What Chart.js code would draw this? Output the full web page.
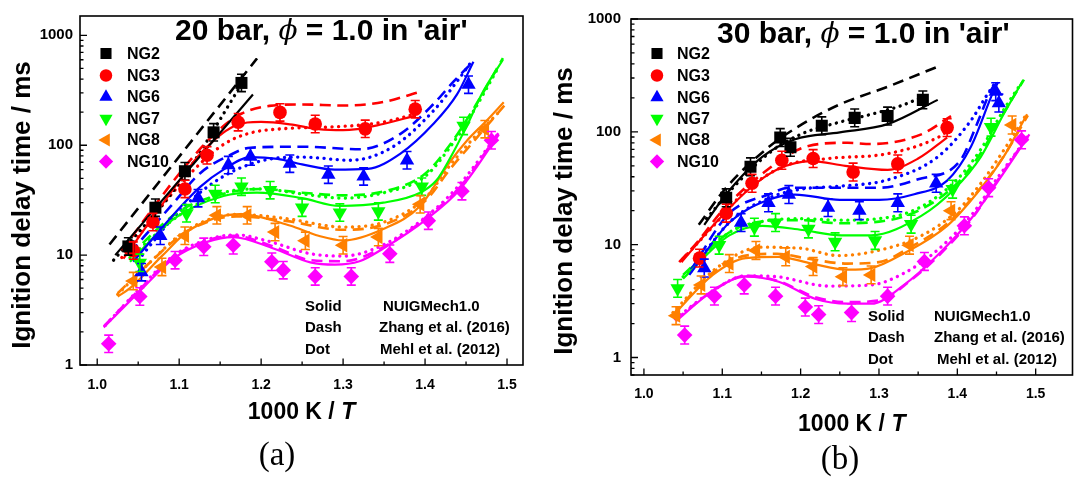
<!DOCTYPE html>
<html><head><meta charset="utf-8">
<script src="https://cdn.jsdelivr.net/npm/chart.js@4.4.1/dist/chart.umd.min.js"></script>
<style>
html,body{margin:0;padding:0;background:#fff;}
body{width:1081px;height:477px;overflow:hidden;position:relative;}
#ca{position:absolute;left:0;top:0;}
#cb{position:absolute;left:540px;top:0;}
</style></head><body>
<canvas id="ca" width="540" height="477"></canvas>
<canvas id="cb" width="541" height="477"></canvas>
<script>
// ---------- shared categories / styles ----------
const SERIES_NAMES = ['NG2','NG3','NG6','NG7','NG8','NG10'];
const SERIES_COLORS = ['#000000','#ff0000','#0000ff','#00ff00','#ff8000','#ff00ff'];
const SERIES_MARKERS = ['rect','circle','triangle','triangle','triangle','rectRot'];
const SERIES_MARKER_ROT = [0,0,0,180,270,0];
const STYLE_LABELS = ['Solid','Dash','Dot'];
const MODEL_LABELS = ['NUIGMech1.0','Zhang et al. (2016)','Mehl et al. (2012)'];
const X_TICKS = [1.0,1.05,1.1,1.15,1.2,1.25,1.3,1.35,1.4,1.45,1.5];
const Y_TICKS_A = [1,2,3,4,5,6,7,8,9,10,20,30,40,50,60,70,80,90,100,200,300,400,500,600,700,800,900,1000];
const Y_TICKS_B = [0.7,0.8,0.9,1,2,3,4,5,6,7,8,9,10,20,30,40,50,60,70,80,90,100,200,300,400,500,600,700,800,900,1000];
const ERR_FRAC = 0.2;
const X_TITLE = ['1000 K / ','T'];
const Y_TITLE = 'Ignition delay time / ms';
const TITLE_A = ['20 bar, ','ϕ',' = 1.0 in \'air\''];
const TITLE_B = ['30 bar, ','ϕ',' = 1.0 in \'air\''];

// ---------- panel (a): 20 bar ----------
const A_NG2_EXP = [[1.038,12],[1.071,27],[1.107,58],[1.142,131],[1.176,369]];
const A_NG2_SOLID = [[1.022,10],[1.19,290]];
const A_NG2_DASH = [[1.015,12.5],[1.195,617]];
const A_NG2_DOT = [[1.02,9],[1.10,45],[1.18,400]];

const A_NG3_EXP = [[1.044,11],[1.068,20],[1.107,40],[1.134,81],[1.172,162],[1.223,199],[1.266,156],[1.327,141],[1.388,213]];
const A_NG3_SOLID = [[1.032,9.3],[1.098,45],[1.126,84],[1.166,148],[1.2,163],[1.235,155],[1.27,140],[1.3,137],[1.349,156],[1.388,186]];
const A_NG3_DASH = [[1.03,11],[1.10,55],[1.14,120],[1.174,190],[1.21,228],[1.25,235],[1.30,230],[1.35,248],[1.39,300]];
const A_NG3_DOT = [[1.03,9.5],[1.10,43],[1.15,97],[1.183,127],[1.23,142],[1.28,146],[1.33,155],[1.357,167],[1.39,195]];

const A_NG6_EXP = [[1.054,7],[1.077,15],[1.123,33],[1.16,66],[1.187,79],[1.235,68],[1.282,54],[1.325,52],[1.378,73],[1.453,356]];
const A_NG6_SOLID = [[1.044,8.7],[1.09,22],[1.126,42],[1.154,60],[1.187,78],[1.22,75],[1.25,67],[1.29,60],[1.33,61],[1.37,84],[1.41,156],[1.439,290],[1.459,575]];
const A_NG6_DASH = [[1.04,10.5],[1.09,28],[1.126,56],[1.16,80],[1.187,95],[1.25,97],[1.321,92],[1.37,127],[1.41,236],[1.435,381],[1.459,580]];
const A_NG6_DOT = [[1.05,9],[1.10,25],[1.15,50],[1.2,72],[1.25,78],[1.309,73],[1.361,97],[1.41,205],[1.439,380],[1.455,555]];

const A_NG7_EXP = [[1.052,8.5],[1.109,24],[1.144,36],[1.176,42],[1.211,39],[1.25,27],[1.296,24.4],[1.343,25],[1.396,42],[1.447,150]];
const A_NG7_SOLID = [[1.04,8.7],[1.093,21.3],[1.154,34.5],[1.195,37],[1.25,33],[1.296,28],[1.349,30],[1.394,37],[1.414,48],[1.43,75],[1.451,150],[1.47,300],[1.495,600]];
const A_NG7_DASH = [[1.04,10],[1.1,25],[1.16,37],[1.2,40],[1.25,37],[1.3,35],[1.35,38],[1.4,55],[1.43,100],[1.46,220],[1.495,620]];
const A_NG7_DOT = [[1.04,9.5],[1.1,23],[1.16,38],[1.2,40],[1.25,36],[1.3,33],[1.35,37],[1.4,52],[1.43,95],[1.46,210],[1.49,520]];

const A_NG8_EXP = [[1.044,5.8],[1.079,7.8],[1.107,15],[1.146,23],[1.183,23],[1.217,16.2],[1.254,13.5],[1.30,12.3],[1.343,14.6],[1.394,29],[1.473,140]];
const A_NG8_SOLID = [[1.025,4.2],[1.04,5],[1.08,10],[1.113,17],[1.174,23.6],[1.235,18.6],[1.27,15],[1.30,13.6],[1.349,17.3],[1.394,28],[1.43,70],[1.451,110],[1.475,167],[1.496,246]];
const A_NG8_DASH = [[1.025,4.5],[1.06,8],[1.11,16.5],[1.17,22.5],[1.23,20.5],[1.3,17],[1.35,19],[1.4,31],[1.43,60],[1.46,110],[1.50,245]];
const A_NG8_DOT = [[1.025,4.4],[1.06,8],[1.11,17],[1.17,23.5],[1.23,21.5],[1.3,18],[1.35,20],[1.4,33],[1.43,65],[1.46,118],[1.49,200]];

const A_NG10_EXP = [[1.014,1.56],[1.052,4.2],[1.095,9.0],[1.13,11.9],[1.166,12.3],[1.213,8.7],[1.227,7.3],[1.266,6.4],[1.31,6.4],[1.357,10.3],[1.404,20.6],[1.445,38.2],[1.481,111]];
const A_NG10_SOLID = [[1.008,2.2],[1.052,4.7],[1.093,9.3],[1.134,13.2],[1.166,14.6],[1.215,11.5],[1.26,8.6],[1.29,8.2],[1.32,8.8],[1.349,11.5],[1.402,21.3],[1.443,40],[1.49,125]];
const A_NG10_DASH = [[1.008,2.25],[1.052,4.9],[1.093,9.6],[1.134,13.6],[1.166,15],[1.215,12],[1.26,9],[1.3,8.8],[1.349,11.8],[1.402,22],[1.443,42],[1.49,130]];
const A_NG10_DOT = [[1.01,2.3],[1.05,4.8],[1.09,9.5],[1.13,13.5],[1.17,15.3],[1.21,13.3],[1.26,10.3],[1.3,9.8],[1.35,12.5],[1.40,22],[1.44,42],[1.49,130]];

// ---------- panel (b): 30 bar ----------
const B_NG2_EXP = [[1.105,26],[1.136,49],[1.174,89],[1.187,73],[1.227,113],[1.269,133],[1.311,138],[1.356,192]];
const B_NG2_SOLID = [[1.077,15],[1.105,28],[1.151,60],[1.193,86],[1.25,99],[1.311,117],[1.375,192]];
const B_NG2_DASH = [[1.07,15],[1.105,32],[1.159,73],[1.202,117],[1.25,175],[1.311,251],[1.379,388]];
const B_NG2_DOT = [[1.08,17],[1.11,30],[1.16,65],[1.2,95],[1.25,122],[1.29,143],[1.33,172],[1.36,210]];

const B_NG3_EXP = [[1.071,7.6],[1.105,19],[1.138,35],[1.176,56],[1.216,58],[1.267,44],[1.324,52],[1.387,109]];
const B_NG3_SOLID = [[1.048,7],[1.088,14.7],[1.134,31],[1.172,47],[1.214,55],[1.257,50],[1.311,46],[1.35,58],[1.387,89]];
const B_NG3_DASH = [[1.045,7],[1.068,10.5],[1.1,20],[1.15,42],[1.21,75],[1.26,80],[1.29,78],[1.354,95],[1.392,138]];
const B_NG3_DOT = [[1.05,7.5],[1.09,15],[1.13,30],[1.18,50],[1.235,58],[1.311,64],[1.375,89],[1.39,105]];

const B_NG6_EXP = [[1.077,6.2],[1.124,15.7],[1.159,23.5],[1.185,27.8],[1.235,21.3],[1.275,20],[1.324,23.5],[1.373,35],[1.449,227],[1.453,180]];
const B_NG6_SOLID = [[1.058,5.4],[1.109,15.7],[1.159,25],[1.193,27.8],[1.25,25],[1.3,25],[1.345,28],[1.387,37],[1.417,73],[1.446,227],[1.452,275]];
const B_NG6_DASH = [[1.06,6],[1.109,19],[1.16,28],[1.185,32],[1.244,32],[1.3,32],[1.35,38],[1.404,56],[1.425,117],[1.442,227],[1.45,280]];
const B_NG6_DOT = [[1.06,5.8],[1.11,16],[1.16,26],[1.2,31],[1.25,33],[1.311,37.5],[1.375,60],[1.417,125],[1.438,213],[1.448,270]];

const B_NG7_EXP = [[1.043,4.1],[1.096,9.9],[1.141,14.3],[1.168,15.7],[1.21,13.8],[1.244,10.6],[1.295,10.9],[1.341,15.2],[1.394,31],[1.443,110]];
const B_NG7_SOLID = [[1.05,5],[1.109,12.1],[1.151,14.7],[1.202,13.5],[1.252,12.1],[1.29,12.1],[1.354,18],[1.396,31],[1.43,60],[1.459,143],[1.484,287]];
const B_NG7_DASH = [[1.05,5.4],[1.11,13],[1.15,16],[1.2,16.5],[1.25,15.5],[1.3,16],[1.35,20],[1.4,35],[1.43,65],[1.46,150],[1.485,290]];
const B_NG7_DOT = [[1.05,5.2],[1.11,13],[1.15,16],[1.2,17],[1.25,16.5],[1.3,17],[1.35,21],[1.4,38],[1.43,70],[1.46,160],[1.48,260]];

const B_NG8_EXP = [[1.041,2.35],[1.073,4.4],[1.109,6.8],[1.143,8.9],[1.181,7.8],[1.216,6.4],[1.254,5.2],[1.29,5.4],[1.339,9.9],[1.392,20],[1.47,115]];
const B_NG8_SOLID = [[1.037,2.35],[1.088,5.4],[1.13,7.6],[1.172,7.8],[1.214,6.8],[1.261,6.0],[1.29,6.2],[1.332,8.4],[1.387,14.7],[1.425,28.6],[1.459,60],[1.489,143]];
const B_NG8_DASH = [[1.037,2.4],[1.09,5.8],[1.13,8],[1.17,8.3],[1.21,7.5],[1.26,6.8],[1.3,7],[1.34,9.5],[1.39,16],[1.43,32],[1.46,62],[1.49,140]];
const B_NG8_DOT = [[1.037,2.5],[1.09,6],[1.15,9.5],[1.2,9.3],[1.248,8],[1.29,8.6],[1.354,12],[1.4,20],[1.43,35],[1.46,70],[1.49,150]];

const B_NG10_EXP = [[1.052,1.58],[1.09,3.5],[1.128,4.4],[1.168,3.5],[1.206,2.8],[1.223,2.4],[1.265,2.5],[1.311,3.5],[1.358,7.1],[1.409,14.7],[1.44,32],[1.482,85]];
const B_NG10_SOLID = [[1.041,2.1],[1.088,3.9],[1.13,5.2],[1.172,4.7],[1.219,3.3],[1.26,3.0],[1.29,3.0],[1.332,4.4],[1.375,8.1],[1.417,16.8],[1.45,35],[1.492,95]];
const B_NG10_DASH = [[1.04,2.15],[1.09,4],[1.13,5.3],[1.17,4.8],[1.22,3.4],[1.26,3.1],[1.3,3.2],[1.34,4.8],[1.38,8.5],[1.42,17.5],[1.45,36],[1.49,92]];
const B_NG10_DOT = [[1.04,2.2],[1.09,4],[1.13,5.3],[1.17,5.2],[1.235,4.3],[1.29,4.4],[1.33,5.5],[1.375,9],[1.42,19],[1.45,38],[1.49,90]];

// ---------- build ----------
const SANS = "'Liberation Sans', Arial, sans-serif";
const MARKER_R = [8.5,6.8,8.3,8.3,8.3,7.8];

function toXY(arr){ return arr.map(p => ({x:p[0], y:p[1]})); }

function buildDatasets(exp, solid, dash, dot){
  const ds = [];
  for (let i = 0; i < SERIES_NAMES.length; i++){
    const c = SERIES_COLORS[i];
    ds.push({label:SERIES_NAMES[i], data:toXY(exp[i]), showLine:false,
      pointStyle:SERIES_MARKERS[i], pointRotation:SERIES_MARKER_ROT[i], pointRadius:MARKER_R[i],
      pointBackgroundColor:c, pointBorderColor:c, pointBorderWidth:0,
      backgroundColor:c, borderColor:c, errorBars:true, order:0});
  }
  const models = [solid, dash, dot];
  const dashes = [[], [11,6.5], [0.1,6.5]];
  const caps = ['butt','butt','round'];
  const widths = [2.2, 2.6, 3.3];
  for (let m = 0; m < 3; m++){
    for (let i = 0; i < SERIES_NAMES.length; i++){
      const c = SERIES_COLORS[i];
      ds.push({label:SERIES_NAMES[i]+' '+STYLE_LABELS[m], data:toXY(models[m][i]),
        borderColor:c, backgroundColor:c, borderWidth:widths[m], borderDash:dashes[m],
        borderCapStyle:caps[m], pointRadius:0, fill:false, cubicInterpolationMode:'monotone', order:1});
    }
  }
  return ds;
}

const decoPlugin = {
  id:'deco',
  afterDatasetsDraw(chart){
    const ctx = chart.ctx, xs = chart.scales.x, ys = chart.scales.y;
    ctx.save();
    chart.data.datasets.forEach(ds => {
      if (!ds.errorBars) return;
      ctx.strokeStyle = ds.borderColor; ctx.lineWidth = 1.6;
      ds.data.forEach(p => {
        const x = xs.getPixelForValue(p.x);
        const y1 = ys.getPixelForValue(p.y*(1+ERR_FRAC));
        const y2 = ys.getPixelForValue(p.y/(1+ERR_FRAC));
        ctx.beginPath();
        ctx.moveTo(x,y1); ctx.lineTo(x,y2);
        ctx.moveTo(x-4.5,y1); ctx.lineTo(x+4.5,y1);
        ctx.moveTo(x-4.5,y2); ctx.lineTo(x+4.5,y2);
        ctx.stroke();
      });
    });
    ctx.restore();
  },
  afterDraw(chart, args, o){
    const ctx = chart.ctx, a = chart.chartArea, xs = chart.scales.x, ys = chart.scales.y;
    ctx.save();
    // frame
    ctx.strokeStyle = '#000'; ctx.lineWidth = 1.6;
    ctx.strokeRect(a.left, a.top, a.right-a.left, a.bottom-a.top);
    // inward ticks
    ctx.lineWidth = 1.3;
    ctx.beginPath();
    xs.ticks.forEach(t => {
      const px = xs.getPixelForValue(t.value);
      const major = Math.abs(t.value*10 - Math.round(t.value*10)) < 1e-6;
      ctx.moveTo(px, a.bottom); ctx.lineTo(px, a.bottom - (major ? 6.5 : 3.5));
    });
    ys.ticks.forEach(t => {
      const py = ys.getPixelForValue(t.value);
      const lg = Math.log10(t.value);
      const major = Math.abs(lg - Math.round(lg)) < 1e-6;
      ctx.moveTo(a.left, py); ctx.lineTo(a.left + (major ? 7 : 3.5), py);
    });
    ctx.stroke();

    ctx.fillStyle = '#000';
    // panel title
    ctx.textBaseline = 'middle'; ctx.textAlign = 'left';
    let tx = o.titleX;
    const tFonts = ['bold 30px '+SANS, "italic 28px 'DejaVu Serif', 'Liberation Serif', serif", 'bold 30px '+SANS];
    o.title.forEach((s,i) => { ctx.font = tFonts[i]; ctx.fillText(s, tx, o.titleY); tx += ctx.measureText(s).width; });

    // legend
    ctx.font = 'bold 16px '+SANS;
    for (let i = 0; i < SERIES_NAMES.length; i++){
      const y = o.legY[i];
      ctx.fillStyle = SERIES_COLORS[i]; ctx.strokeStyle = SERIES_COLORS[i];
      Chart.helpers.drawPoint(ctx, {pointStyle:SERIES_MARKERS[i], rotation:SERIES_MARKER_ROT[i], radius:MARKER_R[i]*0.92, borderWidth:0}, o.legMarkX, y);
      ctx.fillStyle = '#000';
      ctx.fillText(SERIES_NAMES[i], o.legTextX, y+1);
    }

    // model note
    ctx.font = 'bold 15px '+SANS;
    for (let m = 0; m < 3; m++){
      ctx.fillText(STYLE_LABELS[m], o.noteX, o.noteY[m]);
      ctx.fillText(MODEL_LABELS[m], o.noteNameX[m], o.noteY[m]);
    }

    // x title (centered on plot area)
    const f1 = 'bold 23px '+SANS, f2 = 'italic bold 23px '+SANS;
    ctx.font = f1; const w1 = ctx.measureText(X_TITLE[0]).width;
    ctx.font = f2; const w2 = ctx.measureText(X_TITLE[1]).width;
    let xx = (a.left + a.right)/2 - (w1+w2)/2;
    ctx.font = f1; ctx.fillText(X_TITLE[0], xx, o.xTitleY);
    ctx.font = f2; ctx.fillText(X_TITLE[1], xx + w1, o.xTitleY);

    // y title
    ctx.save();
    ctx.translate(o.yTitleX, o.yTitleY); ctx.rotate(-Math.PI/2);
    ctx.font = 'bold 26px '+SANS; ctx.textAlign = 'center';
    ctx.fillText(Y_TITLE, 0, 0);
    ctx.restore();

    // panel label
    ctx.font = "33px 'Liberation Serif', 'Times New Roman', serif";
    ctx.textAlign = 'center';
    ctx.fillText(o.panelLabel, o.panelX, o.panelY);
    ctx.restore();
  }
};

function makeChart(id, datasets, p){
  return new Chart(document.getElementById(id), {
    type:'line',
    data:{datasets},
    options:{
      responsive:false, animation:false, devicePixelRatio:1,
      layout:{padding:p.padding},
      plugins:{legend:{display:false}, tooltip:{enabled:false}, deco:p.deco},
      scales:{
        x:{type:'linear', min:p.xMin, max:p.xMax,
          afterBuildTicks:s => { s.ticks = X_TICKS.map(v => ({value:v})); },
          afterFit:s => { s.height = p.xH; },
          grid:{display:false, drawTicks:false}, border:{display:false},
          ticks:{autoSkip:false, maxRotation:0, padding:p.xPad, color:'#000',
            font:{family:SANS, size:14, weight:'bold'},
            callback:v => (Math.abs(v*10 - Math.round(v*10)) < 1e-6 ? v.toFixed(1) : '')}},
        y:{type:'logarithmic', min:p.yMin, max:p.yMax,
          afterBuildTicks:s => { s.ticks = p.yTicks.map(v => ({value:v})); },
          afterFit:s => { s.width = p.yW; },
          grid:{display:false, drawTicks:false}, border:{display:false},
          ticks:{autoSkip:false, padding:p.yPad, color:'#000',
            font:{family:SANS, size:15, weight:'bold'},
            callback:v => { const l = Math.log10(v); return Math.abs(l - Math.round(l)) < 1e-6 ? String(Math.round(v)) : ''; }}}
      }
    },
    plugins:[decoPlugin]
  });
}

const dsA = buildDatasets(
  [A_NG2_EXP,A_NG3_EXP,A_NG6_EXP,A_NG7_EXP,A_NG8_EXP,A_NG10_EXP],
  [A_NG2_SOLID,A_NG3_SOLID,A_NG6_SOLID,A_NG7_SOLID,A_NG8_SOLID,A_NG10_SOLID],
  [A_NG2_DASH,A_NG3_DASH,A_NG6_DASH,A_NG7_DASH,A_NG8_DASH,A_NG10_DASH],
  [A_NG2_DOT,A_NG3_DOT,A_NG6_DOT,A_NG7_DOT,A_NG8_DOT,A_NG10_DOT]);
const dsB = buildDatasets(
  [B_NG2_EXP,B_NG3_EXP,B_NG6_EXP,B_NG7_EXP,B_NG8_EXP,B_NG10_EXP],
  [B_NG2_SOLID,B_NG3_SOLID,B_NG6_SOLID,B_NG7_SOLID,B_NG8_SOLID,B_NG10_SOLID],
  [B_NG2_DASH,B_NG3_DASH,B_NG6_DASH,B_NG7_DASH,B_NG8_DASH,B_NG10_DASH],
  [B_NG2_DOT,B_NG3_DOT,B_NG6_DOT,B_NG7_DOT,B_NG8_DOT,B_NG10_DOT]);

makeChart('ca', dsA, {
  padding:{left:0, top:10, right:17, bottom:0},
  xMin:0.979, xMax:1.5195, yMin:1, yMax:1500, yTicks:Y_TICKS_A,
  xH:112, yW:80, xPad:12, yPad:7,
  deco:{title:TITLE_A, titleX:175, titleY:32,
    legY:[53.5,75.5,97,118.5,140,161.5], legMarkX:106, legTextX:127,
    noteX:305, noteY:[307,328,350], noteNameX:[383,379,380],
    xTitleY:413, yTitleX:23, yTitleY:205, panelLabel:'(a)', panelX:277, panelY:456}
});
makeChart('cb', dsB, {
  padding:{left:0, top:13, right:5, bottom:0},
  xMin:0.9835, xMax:1.547, yMin:0.7, yMax:1000, yTicks:Y_TICKS_B,
  xH:102, yW:91, xPad:11, yPad:10,
  deco:{title:TITLE_B, titleX:177, titleY:35,
    legY:[53.5,75.5,97.5,118.5,140,161.5], legMarkX:117, legTextX:137,
    noteX:328, noteY:[317,338,360], noteNameX:[394,394,397],
    xTitleY:425, yTitleX:25, yTitleY:211, panelLabel:'(b)', panelX:300, panelY:460}
});
</script>
</body></html>
